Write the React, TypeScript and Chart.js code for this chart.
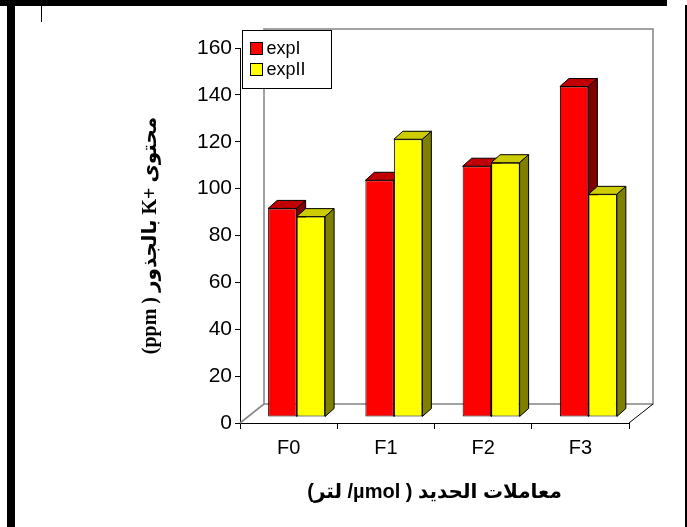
import React, { useEffect, useRef } from "react";
import { Chart, registerables } from "chart.js";

Chart.register(...registerables);

// ---- data ----
const categories = ["F0", "F1", "F2", "F3"];
const seriesNames = ["expI", "expII"];
const expI = [89, 101, 107, 141];
const expII = [85.5, 118.5, 108.5, 95];
const yMin = 0;
const yMax = 160;
const yStep = 20;
const yTitle = "محتوى +K بالجذور ( ppm)";
const xTitle = "معاملات الحديد ( µmol/ لتر)";

// ---- styles ----
const frontColors = ["#ff0000", "#ffff00"];
const topColors = ["#c00000", "#cccc00"];
const sideColors = ["#800000", "#808000"];
const SANS = "'Liberation Sans', Arial, 'DejaVu Sans', sans-serif";
const SERIF = "'Liberation Serif', 'Times New Roman', 'DejaVu Sans', serif";

const BAR_DX = 8;
const BAR_DY = -6;
const DEPTH_X = 9;
const DEPTH_Y = -8;
const WALL_DX = 24;
const WALL_DY = -19;

const threeD = {
  id: "threeD",
  beforeDatasetsDraw(chart: any) {
    const { ctx, chartArea: a } = chart;
    ctx.save();
    ctx.strokeStyle = "#8a8a8a";
    ctx.lineWidth = 1.6;
    ctx.strokeRect(a.left + WALL_DX, a.top + WALL_DY, a.right - a.left, a.bottom - a.top);
    ctx.beginPath();
    ctx.moveTo(a.left, a.bottom);
    ctx.lineTo(a.left + WALL_DX, a.bottom + WALL_DY);
    ctx.stroke();
    ctx.strokeStyle = "#000";
    ctx.lineWidth = 1;
    ctx.beginPath();
    ctx.moveTo(a.right, a.bottom);
    ctx.lineTo(a.right + WALL_DX, a.bottom + WALL_DY);
    ctx.stroke();
    ctx.restore();
  },
  beforeDatasetDraw() {
    return false;
  },
  afterDatasetsDraw(chart: any) {
    const ctx = chart.ctx;
    ctx.save();
    ctx.translate(BAR_DX, BAR_DY);
    const n = chart.data.datasets.length;
    const nCat = chart.data.labels.length;
    for (let c = 0; c < nCat; c++) {
      for (let d = 0; d < n; d++) {
        const meta = chart.getDatasetMeta(d);
        const bar: any = meta.data[c];
        if (!bar) continue;
        bar.draw(ctx);
        const { x, y, base, width } = bar;
        const l = x - width / 2;
        const r = x + width / 2;
        ctx.lineWidth = 1;
        ctx.strokeStyle = "#000";
        ctx.lineJoin = "round";
        ctx.beginPath();
        ctx.moveTo(l, y);
        ctx.lineTo(l + DEPTH_X, y + DEPTH_Y);
        ctx.lineTo(r + DEPTH_X, y + DEPTH_Y);
        ctx.lineTo(r, y);
        ctx.closePath();
        ctx.fillStyle = topColors[d];
        ctx.fill();
        ctx.stroke();
        ctx.beginPath();
        ctx.moveTo(r, y);
        ctx.lineTo(r + DEPTH_X, y + DEPTH_Y);
        ctx.lineTo(r + DEPTH_X, base + DEPTH_Y);
        ctx.lineTo(r, base);
        ctx.closePath();
        ctx.fillStyle = sideColors[d];
        ctx.fill();
        ctx.stroke();
      }
    }
    ctx.restore();
  },
};

const boxLegend = {
  id: "boxLegend",
  afterDraw(chart: any) {
    const { ctx, chartArea: a } = chart;
    ctx.save();
    ctx.direction = "ltr";
    const bx = a.left + 2.5;
    const by = a.top + WALL_DY + 1.5;
    const bw = 89;
    const bh = 58;
    ctx.fillStyle = "#fff";
    ctx.fillRect(bx, by, bw, bh);
    ctx.strokeStyle = "#000";
    ctx.lineWidth = 1;
    ctx.strokeRect(bx, by, bw, bh);
    ctx.font = `18px ${SANS}`;
    ctx.textAlign = "left";
    ctx.textBaseline = "middle";
    chart.data.datasets.forEach((ds: any, i: number) => {
      const cy = by + 18 + i * 21;
      ctx.fillStyle = ds.backgroundColor;
      ctx.fillRect(bx + 8, cy - 6, 12, 12);
      ctx.strokeRect(bx + 8, cy - 6, 12, 12);
      ctx.fillStyle = "#000";
      ctx.fillText(ds.label, bx + 24, cy + 1);
    });
    ctx.restore();
  },
};

export default function App() {
  const ref = useRef<HTMLCanvasElement>(null);
  useEffect(() => {
    if (!ref.current) return;
    const chart = new Chart(ref.current, {
      type: "bar",
      data: {
        labels: categories,
        datasets: [expI, expII].map((vals, i) => ({
          label: seriesNames[i],
          data: vals,
          backgroundColor: frontColors[i],
          borderColor: "#000",
          borderWidth: 1,
          borderSkipped: false,
          categoryPercentage: 0.586,
          barPercentage: 1,
          clip: false as any,
        })),
      },
      options: {
        responsive: false,
        animation: false,
        events: [],
        layout: { padding: { left: 130, top: 48, right: 58, bottom: 0 } },
        plugins: { legend: { display: false }, tooltip: { enabled: false } },
        scales: {
          x: {
            offset: true,
            ticks: { color: "#000", font: { family: SANS, size: 20 }, padding: 7 },
            grid: { drawOnChartArea: false, tickLength: 6, color: "#000", offset: true },
            border: { display: true, color: "#000", width: 1 },
            title: {
              display: true,
              text: xTitle,
              color: "#000",
              font: { family: SANS, size: 20, weight: "bold" },
              padding: { top: 0, bottom: 23 },
            },
            afterFit(s: any) {
              s.height = 104;
            },
          },
          y: {
            min: yMin,
            max: yMax,
            ticks: { stepSize: yStep, color: "#000", font: { family: SANS, size: 21 }, padding: 3 },
            grid: { drawOnChartArea: false, tickLength: 5, color: "#000" },
            border: { display: true, color: "#000", width: 1 },
            title: {
              display: true,
              text: yTitle,
              color: "#000",
              font: { family: SERIF, size: 20, weight: "bold" },
              padding: { top: 9, bottom: 0 },
            },
            afterFit(s: any) {
              s.width = 110;
            },
          },
        },
      },
      plugins: [threeD, boxLegend],
    });
    return () => chart.destroy();
  }, []);

  return (
    <div style={{ position: "fixed", left: 0, top: 0, width: 687, height: 527, background: "#fff", overflow: "hidden" }}>
      <div style={{ position: "absolute", left: 0, top: 0, width: 667, height: 6, background: "#000" }} />
      <div style={{ position: "absolute", left: 7, top: 0, width: 8, height: 527, background: "#000" }} />
      <div style={{ position: "absolute", left: 685, top: 5, width: 2, height: 522, background: "#000" }} />
      <div style={{ position: "absolute", left: 41, top: 6, width: 1, height: 16, background: "#000" }} />
      <canvas ref={ref} width={687} height={527} dir="rtl" style={{ position: "absolute", left: 0, top: 0 }} />
    </div>
  );
}
